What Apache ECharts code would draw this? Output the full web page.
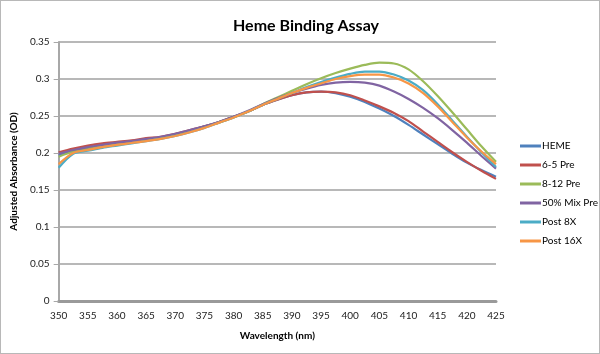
<!DOCTYPE html>
<html>
<head>
<meta charset="utf-8">
<script src="https://cdn.jsdelivr.net/npm/echarts@6/dist/echarts.min.js"></script>
<style>
  html, body { margin: 0; padding: 0; background: #fff; }
  #charts { width: 600px; height: 354px; box-sizing: border-box; border: 1px solid #b8b8b8; }
</style>
</head>
<body>
<div id="charts"></div>
<script>
// wavelengths (nm), 2.5 nm steps
var wavelengths = [350, 352.5, 355, 357.5, 360, 362.5, 365, 367.5, 370, 372.5, 375, 377.5, 380, 382.5, 385,
    387.5, 390, 392.5, 395, 397.5, 400, 402.5, 405, 407.5, 410, 412.5, 415, 417.5, 420, 422.5, 425];

var heme = [0.197, 0.203, 0.207, 0.210, 0.213, 0.2155, 0.218, 0.221, 0.225, 0.230, 0.236, 0.242, 0.249, 0.256, 0.265,
    0.272, 0.278, 0.282, 0.283, 0.281, 0.276, 0.269, 0.260, 0.250, 0.238, 0.225, 0.212, 0.199, 0.187, 0.177, 0.168];
var pre65 = [0.201, 0.206, 0.210, 0.213, 0.215, 0.217, 0.220, 0.222, 0.226, 0.231, 0.236, 0.242, 0.249, 0.256, 0.265,
    0.272, 0.278, 0.282, 0.283, 0.282, 0.278, 0.271, 0.263, 0.254, 0.243, 0.229, 0.215, 0.201, 0.188, 0.176, 0.165];
var pre812 = [0.195, 0.202, 0.206, 0.209, 0.212, 0.2145, 0.217, 0.220, 0.224, 0.229, 0.235, 0.241, 0.248, 0.256, 0.266,
    0.275, 0.284, 0.293, 0.301, 0.308, 0.314, 0.319, 0.322, 0.321, 0.313, 0.297, 0.277, 0.255, 0.232, 0.209, 0.188];
var mixPre = [0.199, 0.204, 0.208, 0.211, 0.214, 0.216, 0.219, 0.222, 0.226, 0.231, 0.236, 0.242, 0.249, 0.257, 0.266,
    0.274, 0.281, 0.287, 0.292, 0.295, 0.296, 0.295, 0.291, 0.283, 0.273, 0.261, 0.247, 0.231, 0.214, 0.196, 0.179];
var post8 = [0.180, 0.199, 0.203, 0.207, 0.210, 0.213, 0.216, 0.219, 0.223, 0.228, 0.234, 0.241, 0.248, 0.256, 0.265,
    0.273, 0.281, 0.289, 0.296, 0.302, 0.307, 0.310, 0.310, 0.306, 0.298, 0.285, 0.266, 0.244, 0.222, 0.201, 0.181];
var post16 = [0.185, 0.200, 0.204, 0.208, 0.211, 0.2135, 0.216, 0.219, 0.223, 0.228, 0.234, 0.241, 0.248, 0.256, 0.265,
    0.273, 0.281, 0.288, 0.294, 0.300, 0.304, 0.306, 0.306, 0.302, 0.294, 0.281, 0.263, 0.242, 0.221, 0.202, 0.185];

var names = ['HEME', '6-5 Pre', '8-12 Pre', '50% Mix Pre', 'Post 8X', 'Post 16X'];
var colors = ['#4F81BD', '#C0504D', '#9BBB59', '#8064A2', '#4BACC6', '#F79646'];
var seriesData = [heme, pre65, pre812, mixPre, post8, post16];

var fontName = 'Lato, "Open Sans", sans-serif';

// 拼成 [x, y] 点
function pairs(vals) {
    var list = [];
    for (var i = 0; i < wavelengths.length; i++) {
        list.push([wavelengths[i], vals[i]]);
    }
    return list;
}

function buildSeries() {
    var series = [];
    for (var i = 0; i < names.length; i++) {
        series.push({
            name: names[i],
            type: 'line',
            data: pairs(seriesData[i]),
            smooth: 0.3,
            showSymbol: false,
            lineStyle: { width: 2.2, color: colors[i] },
            itemStyle: { color: colors[i] }
        });
    }
    return series;
}

var myChart = echarts.init(document.getElementById('charts'));

option = {
    animation: false,
    title: {
        text: 'Heme Binding Assay',
        left: 300,
        textAlign: 'center',
        top: 12,
        textStyle: { fontFamily: fontName, fontSize: 16, fontWeight: 'bold', color: '#000' }
    },
    legend: {
        orient: 'vertical',
        left: 519,
        top: 140,
        padding: 0,
        itemGap: 9,
        itemWidth: 21,
        itemHeight: 3,
        icon: 'rect',
        data: names,
        textStyle: { fontFamily: fontName, fontSize: 10, color: '#000', padding: [0, 0, 0, -4] }
    },
    grid: {
        left: 57,
        right: 103,
        top: 41,
        bottom: 52
    },
    xAxis: {
        type: 'value',
        min: 350,
        max: 425,
        interval: 5,
        name: 'Wavelength (nm)',
        nameLocation: 'middle',
        nameGap: 30,
        nameTextStyle: { fontFamily: fontName, fontSize: 10, fontWeight: 'bold', color: '#000' },
        axisLine: { show: true, lineStyle: { color: '#9a9a9a', width: 3 } },
        axisTick: { show: false },
        splitLine: { show: false },
        axisLabel: { fontFamily: fontName, fontSize: 10, color: '#222', margin: 10 }
    },
    yAxis: {
        type: 'value',
        min: 0,
        max: 0.35,
        interval: 0.05,
        name: 'Adjusted Absorbance (OD)',
        nameLocation: 'middle',
        nameGap: 37,
        nameTextStyle: { fontFamily: fontName, fontSize: 10, fontWeight: 'bold', color: '#000' },
        axisLine: { show: true, lineStyle: { color: '#a8a8a8', width: 2 } },
        axisTick: { show: true, length: 5, lineStyle: { color: '#a8a8a8' } },
        splitLine: { lineStyle: { color: '#a0a0a0', width: 1.5 } },
        axisLabel: { fontFamily: fontName, fontSize: 10, color: '#222', margin: 9 }
    },
    series: buildSeries()
};

myChart.setOption(option);
</script>
</body>
</html>
